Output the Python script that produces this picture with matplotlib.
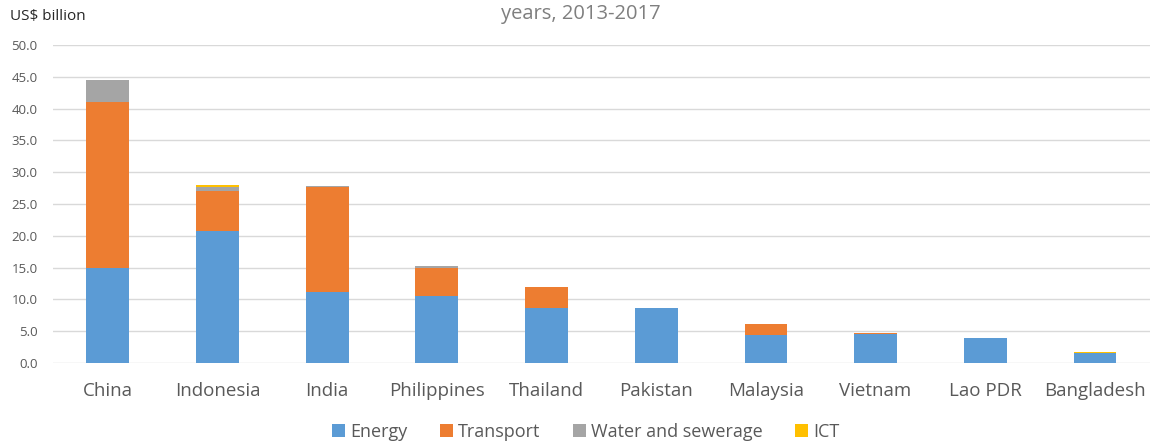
import numpy as np
import matplotlib
matplotlib.use('Agg')
import matplotlib.pyplot as plt

countries = ['China', 'Indonesia', 'India', 'Philippines', 'Thailand',
             'Pakistan', 'Malaysia', 'Vietnam', 'Lao PDR', 'Bangladesh']
energy    = [15.0, 20.7, 11.1, 10.6, 8.6, 8.7, 4.4, 4.5, 3.9, 1.5]
transport = [26.0, 6.4, 16.5, 4.3, 3.3, 0.0, 1.8, 0.2, 0.0, 0.15]
water     = [3.5, 0.5, 0.2, 0.3, 0.0, 0.0, 0.0, 0.0, 0.0, 0.0]
ict       = [0.0, 0.4, 0.0, 0.0, 0.0, 0.0, 0.0, 0.0, 0.0, 0.15]
sectors = ['Energy', 'Transport', 'Water and sewerage', 'ICT']
colors = ['#5B9BD5', '#ED7D31', '#A5A5A5', '#FFC000']
yticks = np.arange(0, 50.1, 5)

plt.rcParams['font.family'] = ['Open Sans', 'DejaVu Sans']
txt = '#595959'

fig = plt.figure(figsize=(11.51, 4.43), dpi=100)
ax = fig.add_axes([0.046, 0.1806, 0.953, 0.7178])

x = np.arange(len(countries))
bottom = np.zeros(len(countries))
for name, vals, c in zip(sectors, [energy, transport, water, ict], colors):
    ax.bar(x, vals, 0.39, bottom=bottom, color=c, label=name, zorder=3)
    bottom += np.array(vals)

ax.set_xlim(-0.5, len(countries) - 0.5)
ax.set_ylim(0, 50)
ax.set_yticks(yticks)
ax.set_yticklabels(['%.1f' % v for v in yticks])
ax.set_xticks(x)
ax.set_xticklabels(countries)
ax.grid(axis='y', color='#D9D9D9', lw=1, zorder=0)
for s in ax.spines.values():
    s.set_visible(False)
ax.tick_params(axis='y', length=0, pad=11, labelsize=9.5, labelcolor=txt)
ax.tick_params(axis='x', length=0, pad=14, labelsize=13.5, labelcolor=txt)

fig.text(0.009, 0.962, 'US$ billion', fontsize=11, color='#262626', va='center')
fig.text(0.505, 0.968, 'years, 2013-2017', fontsize=14.5, color='#7f7f7f',
         ha='center', va='center')

fig.legend(loc='center', bbox_to_anchor=(0.509, 0.025), ncol=4, frameon=False,
           fontsize=13, labelcolor=txt, handlelength=0.7, handleheight=0.7,
           handletextpad=0.3, columnspacing=1.8)

fig.savefig('out.png', dpi=100)
